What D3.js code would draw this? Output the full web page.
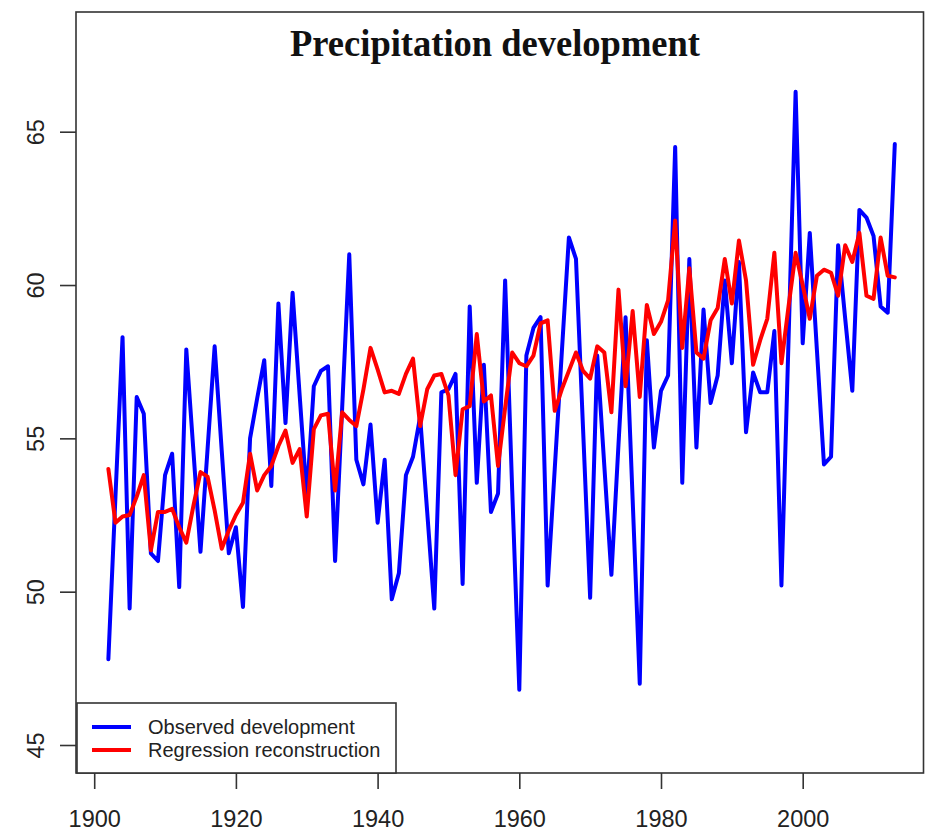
<!DOCTYPE html>
<html>
<head>
<meta charset="utf-8">
<script src="https://cdn.jsdelivr.net/npm/d3@7"></script>
<style>
  body { margin: 0; background: #fff; }
  svg { display: block; }
</style>
</head>
<body>
<div id="chart"></div>
<script>
// years 1902..2013
const years = d3.range(1902, 2014);

// observed precipitation (blue)
const observed = [
  47.8, 53.1, 58.3, 49.45, 56.35, 55.8, 51.25, 51.0, 53.8, 54.5,
  50.15, 57.9, 54.6, 51.3, 54.65, 58.0, 54.6, 51.25, 52.1, 49.5,
  55.0, 56.3, 57.55, 53.45, 59.4, 55.5, 59.75, 56.4, 53.1, 56.7,
  57.2, 57.35, 51.0, 56.0, 61.0, 54.3, 53.5, 55.45, 52.25, 54.3,
  49.75, 50.6, 53.8, 54.4, 55.7, 52.6, 49.45, 56.5, 56.6, 57.1,
  50.25, 59.3, 53.55, 57.4, 52.6, 53.2, 60.15, 53.3, 46.8, 57.7,
  58.6, 58.95, 50.2, 54.0, 57.8, 61.55, 60.85, 55.3, 49.8, 57.7,
  54.1, 50.55, 54.8, 58.95, 53.0, 47.0, 58.2, 54.7, 56.55, 57.05,
  64.5, 53.55, 60.85, 54.7, 59.2, 56.15, 57.05, 60.15, 57.45, 60.75,
  55.2, 57.15, 56.5, 56.5, 58.5, 50.2, 58.2, 66.3, 58.1, 61.7,
  57.9, 54.15, 54.4, 61.3, 58.9, 56.55, 62.45, 62.2, 61.6, 59.3,
  59.1, 64.6
];

// regression reconstruction (red)
const reconstructed = [
  54.0, 52.25, 52.45, 52.5, 53.1, 53.8, 51.35, 52.6, 52.6, 52.7,
  52.1, 51.6, 52.8, 53.9, 53.75, 52.65, 51.4, 52.0, 52.5, 52.9,
  54.5, 53.3, 53.8, 54.1, 54.75, 55.25, 54.2, 54.65, 52.45, 55.3,
  55.75, 55.8, 53.3, 55.85, 55.6, 55.4, 56.6, 57.95, 57.25, 56.5,
  56.55, 56.45, 57.1, 57.6, 55.4, 56.6, 57.05, 57.1, 56.4, 53.8,
  55.95, 56.05, 58.4, 56.2, 56.4, 54.1, 56.0, 57.8, 57.45, 57.35,
  57.7, 58.75, 58.85, 55.9, 56.6, 57.2, 57.8, 57.2, 56.95, 58.0,
  57.8, 55.85, 59.85, 56.7, 59.15, 56.35, 59.35, 58.4, 58.8, 59.5,
  62.1, 57.95, 60.55, 57.8, 57.6, 58.85, 59.25, 60.85, 59.4, 61.45,
  60.15, 57.4, 58.2, 58.9, 61.05, 57.45, 59.3, 61.05, 60.0, 58.9,
  60.3, 60.5, 60.4, 59.65, 61.3, 60.75, 61.7, 59.65, 59.55, 61.55,
  60.3, 60.25
];

const xTicks = [1900, 1920, 1940, 1960, 1980, 2000];
const yTicks = [45, 50, 55, 60, 65];
const legendLabels = ["Observed development", "Regression reconstruction"];
const colors = ["#0000ff", "#ff0000"];

const width = 925, height = 836;
const box = {left: 76, right: 923.5, top: 12, bottom: 773};

const x = d3.scaleLinear().domain([1900, 2000]).range([94.2, 802.7]);
const y = d3.scaleLinear().domain([45, 65]).range([745, 131.7]);

const svg = d3.select("#chart").append("svg")
    .attr("width", width)
    .attr("height", height)
    .style("font-family", "'Liberation Sans', Arial, sans-serif");

// lines
const line = d3.line()
    .x((d, i) => x(years[i]))
    .y(d => y(d));

[observed, reconstructed].forEach((s, k) => {
  svg.append("path")
      .datum(s)
      .attr("fill", "none")
      .attr("stroke", colors[k])
      .attr("stroke-width", 4)
      .attr("stroke-linejoin", "round")
      .attr("stroke-linecap", "round")
      .attr("d", line);
});

// plot frame
svg.append("rect")
    .attr("x", box.left)
    .attr("y", box.top)
    .attr("width", box.right - box.left)
    .attr("height", box.bottom - box.top)
    .attr("fill", "none")
    .attr("stroke", "#333")
    .attr("stroke-width", 1.6);

// x axis
const xAxis = svg.append("g")
    .attr("transform", `translate(0,${box.bottom})`)
    .call(d3.axisBottom(x).tickValues(xTicks).tickFormat(d3.format("d"))
      .tickSize(16).tickPadding(21));
xAxis.select(".domain").remove();
xAxis.selectAll("line").attr("stroke", "#333").attr("stroke-width", 1.6);
xAxis.selectAll("text")
    .attr("font-size", 23.5)
    .attr("font-family", "'Liberation Sans', Arial, sans-serif")
    .attr("fill", "#222");

// y axis, labels rotated like base R
const yAxis = svg.append("g")
    .attr("transform", `translate(${box.left},0)`)
    .call(d3.axisLeft(y).tickValues(yTicks).tickSize(16));
yAxis.select(".domain").remove();
yAxis.selectAll("line").attr("stroke", "#333").attr("stroke-width", 1.6);
yAxis.selectAll("text")
    .attr("x", 0)
    .attr("dy", 0)
    .attr("text-anchor", "middle")
    .attr("transform", "translate(-32.5,0) rotate(-90)")
    .attr("font-size", 23.5)
    .attr("font-family", "'Liberation Sans', Arial, sans-serif")
    .attr("fill", "#222");

// title
svg.append("text")
    .attr("x", 495)
    .attr("y", 56)
    .attr("text-anchor", "middle")
    .attr("font-family", "'Liberation Serif', 'Times New Roman', serif")
    .attr("font-weight", "bold")
    .attr("font-size", 38)
    .attr("textLength", 410)
    .attr("lengthAdjust", "spacingAndGlyphs")
    .attr("fill", "#111")
    .text("Precipitation development");

// legend
const legend = svg.append("g");
legend.append("rect")
    .attr("x", 77)
    .attr("y", 703)
    .attr("width", 319)
    .attr("height", box.bottom - 703)
    .attr("fill", "#fff")
    .attr("stroke", "#333")
    .attr("stroke-width", 1.6);

const item = legend.selectAll("g.item")
    .data(legendLabels)
    .join("g")
    .attr("class", "item")
    .attr("transform", (d, i) => `translate(0,${727 + i * 23})`);

item.append("line")
    .attr("x1", 92).attr("x2", 131)
    .attr("stroke", (d, i) => colors[i])
    .attr("stroke-width", 4);

item.append("text")
    .attr("x", 148)
    .attr("dy", "0.35em")
    .attr("font-size", 20)
    .attr("fill", "#222")
    .text(d => d);
</script>
</body>
</html>
